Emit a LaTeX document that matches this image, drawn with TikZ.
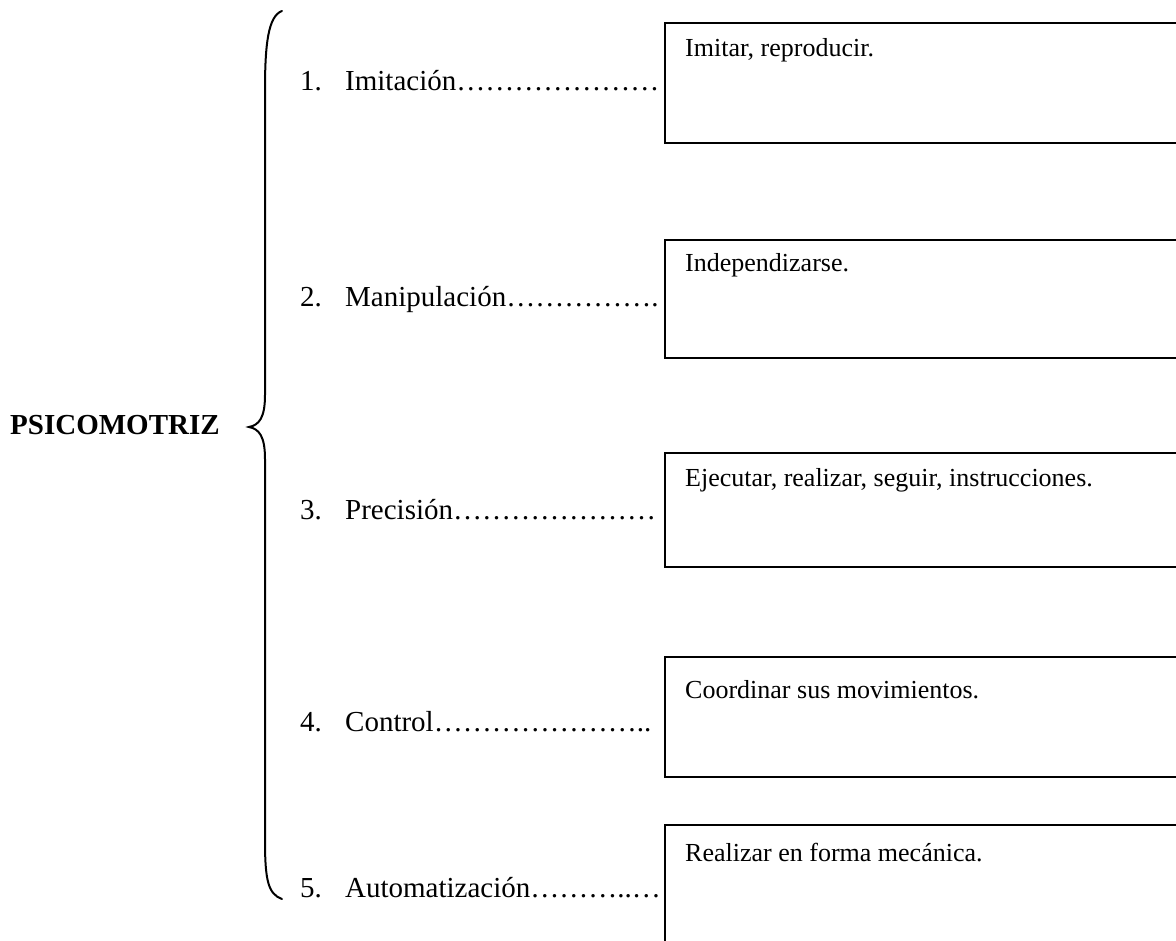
\documentclass[tikz,border=0pt]{standalone}
\usepackage{fontspec}
\setmainfont{Liberation Serif}
\begin{document}
\begin{tikzpicture}[x=1pt,y=-1pt,
  lbl/.style={anchor=base west,inner sep=0pt,font=\fontsize{29}{32}\selectfont},
  boxtext/.style={anchor=base west,inner sep=0pt,font=\fontsize{26}{30}\selectfont},
  box/.style={draw,line width=2.2pt},
  brace/.style={line width=2pt,line cap=round}]
\useasboundingbox (0,0) rectangle (1176,941);
% title
\node[lbl,font=\fontsize{29}{32}\selectfont\bfseries] (title) at (10,435) {PSICOMOTRIZ};
% brace
\coordinate (btop) at (282,11);
\coordinate (btip) at (249,427);
\coordinate (bbot) at (282,899);
\draw[brace] (btop) .. controls (268,16) and (265,45) .. (265,90) -- (265,395)
  .. controls (265,418) and (259,425) .. (btip)
  .. controls (259,429) and (265,436) .. (265,459) -- (265,840)
  .. controls (265,880) and (268,894) .. (bbot);
% labels
\node[lbl] (l1) at (300,91) {\makebox[45pt][l]{1.}Imitación…………………};
\node[lbl] (l2) at (300,307) {\makebox[45pt][l]{2.}Manipulación…………….};
\node[lbl] (l3) at (300,519) {\makebox[45pt][l]{3.}Precisión…………………};
\node[lbl] (l4) at (300,731) {\makebox[45pt][l]{4.}Control…………………..};
\node[lbl] (l5) at (300,897) {\makebox[45pt][l]{5.}Automatización………..…};
% boxes
\draw[box] (665,23) rectangle (1182,143);
\draw[box] (665,240) rectangle (1182,358);
\draw[box] (665,453) rectangle (1182,567);
\draw[box] (665,657) rectangle (1182,777);
\draw[box] (665,825) rectangle (1182,950);
% box texts
\node[boxtext] (t1) at (685,57) {Imitar, reproducir.};
\node[boxtext] (t2) at (685,272) {Independizarse.};
\node[boxtext] (t3) at (685,486) {Ejecutar, realizar, seguir, instrucciones.};
\node[boxtext] (t4) at (685,698) {Coordinar sus movimientos.};
\node[boxtext] (t5) at (685,861) {Realizar en forma mecánica.};
\end{tikzpicture}
\end{document}
